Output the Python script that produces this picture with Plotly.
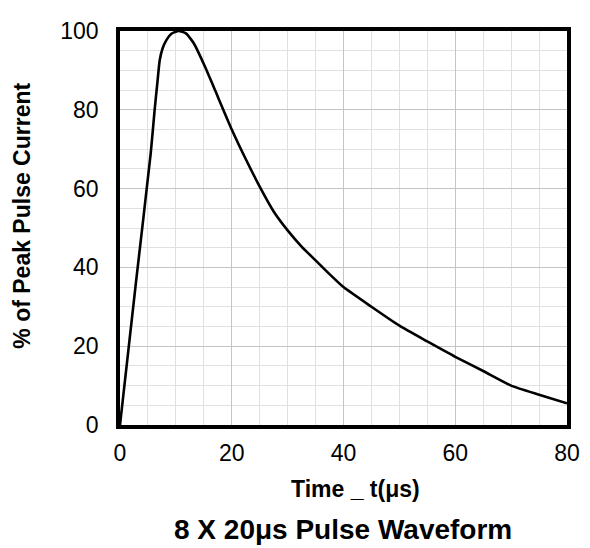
import plotly.graph_objects as go

time_us = [0, 2.8, 5.5, 6.2, 6.7, 7.1, 7.6, 8.3, 9.2, 10.5, 11.8, 13.2, 15.2, 17, 20,
           22.5, 25, 27.5, 30, 32.5, 35, 37.5, 40, 45, 50, 55, 60, 65, 70, 75, 80]
peak_pct = [0, 35.5, 69, 80, 87, 92.5, 95.5, 97.7, 99.3, 100, 99.4, 96.9, 91, 85, 75,
            67.5, 60.5, 54.2, 49.4, 45.3, 41.8, 38.3, 35, 30, 25.2, 21.2, 17.3, 13.7, 10, 7.7, 5.5]

x_ticks = [0, 20, 40, 60, 80]
y_ticks = [0, 20, 40, 60, 80, 100]

FONT = "Liberation Sans, Arial, sans-serif"

W, H = 582, 540
OFF = 8  # page body margin
L, R, T, B = 112, 10, 12, 123
W_plot = W - L - R
H_plot = H - T - B

def px(page_x):
    return (page_x - OFF - L) / W_plot

def py(page_y):
    return (H - B - (page_y - OFF)) / H_plot

fig = go.Figure()
fig.add_trace(go.Scatter(x=time_us, y=peak_pct, mode="lines",
                         line=dict(color="black", width=2.6, shape="spline", smoothing=0.5),
                         showlegend=False, hoverinfo="skip"))

fig.update_layout(
    width=W, height=H,
    margin=dict(l=L, r=R, t=T, b=B, pad=0),
    paper_bgcolor="white", plot_bgcolor="white",
    font=dict(family=FONT, size=23, color="black"),
    xaxis=dict(range=[0, 80], tickvals=x_ticks, showgrid=True, gridcolor="#c4c4c4", gridwidth=1.3,
               minor=dict(dtick=5, showgrid=True, gridcolor="#e0e0e0", gridwidth=1.3),
               showline=True, linecolor="black", linewidth=3.5, mirror=True,
               ticks="", zeroline=False, tickfont=dict(size=23), ticklabelstandoff=5),
    yaxis=dict(range=[0, 100], tickvals=y_ticks, showgrid=True, gridcolor="#c4c4c4", gridwidth=1.3,
               minor=dict(dtick=5, showgrid=True, gridcolor="#e0e0e0", gridwidth=1.3),
               showline=True, linecolor="black", linewidth=3.5, mirror=True,
               ticks="", zeroline=False, tickfont=dict(size=23), ticklabelstandoff=13),
    annotations=[
        dict(text="<b>Time _ t(μs)</b>", xref="paper", yref="paper",
             x=px(362), y=py(491), xanchor="center", yanchor="middle",
             showarrow=False, font=dict(size=23, family=FONT)),
        dict(text="<b>8 X 20μs Pulse Waveform</b>", xref="paper", yref="paper",
             x=px(349), y=py(532), xanchor="center", yanchor="middle",
             showarrow=False, font=dict(size=28, family=FONT)),
        dict(text="<b>% of Peak Pulse Current</b>", xref="paper", yref="paper",
             x=px(19), y=py(210), xanchor="center", yanchor="middle", textangle=-90,
             showarrow=False, font=dict(size=23, family=FONT)),
    ],
)

fig.write_html("out.html")
